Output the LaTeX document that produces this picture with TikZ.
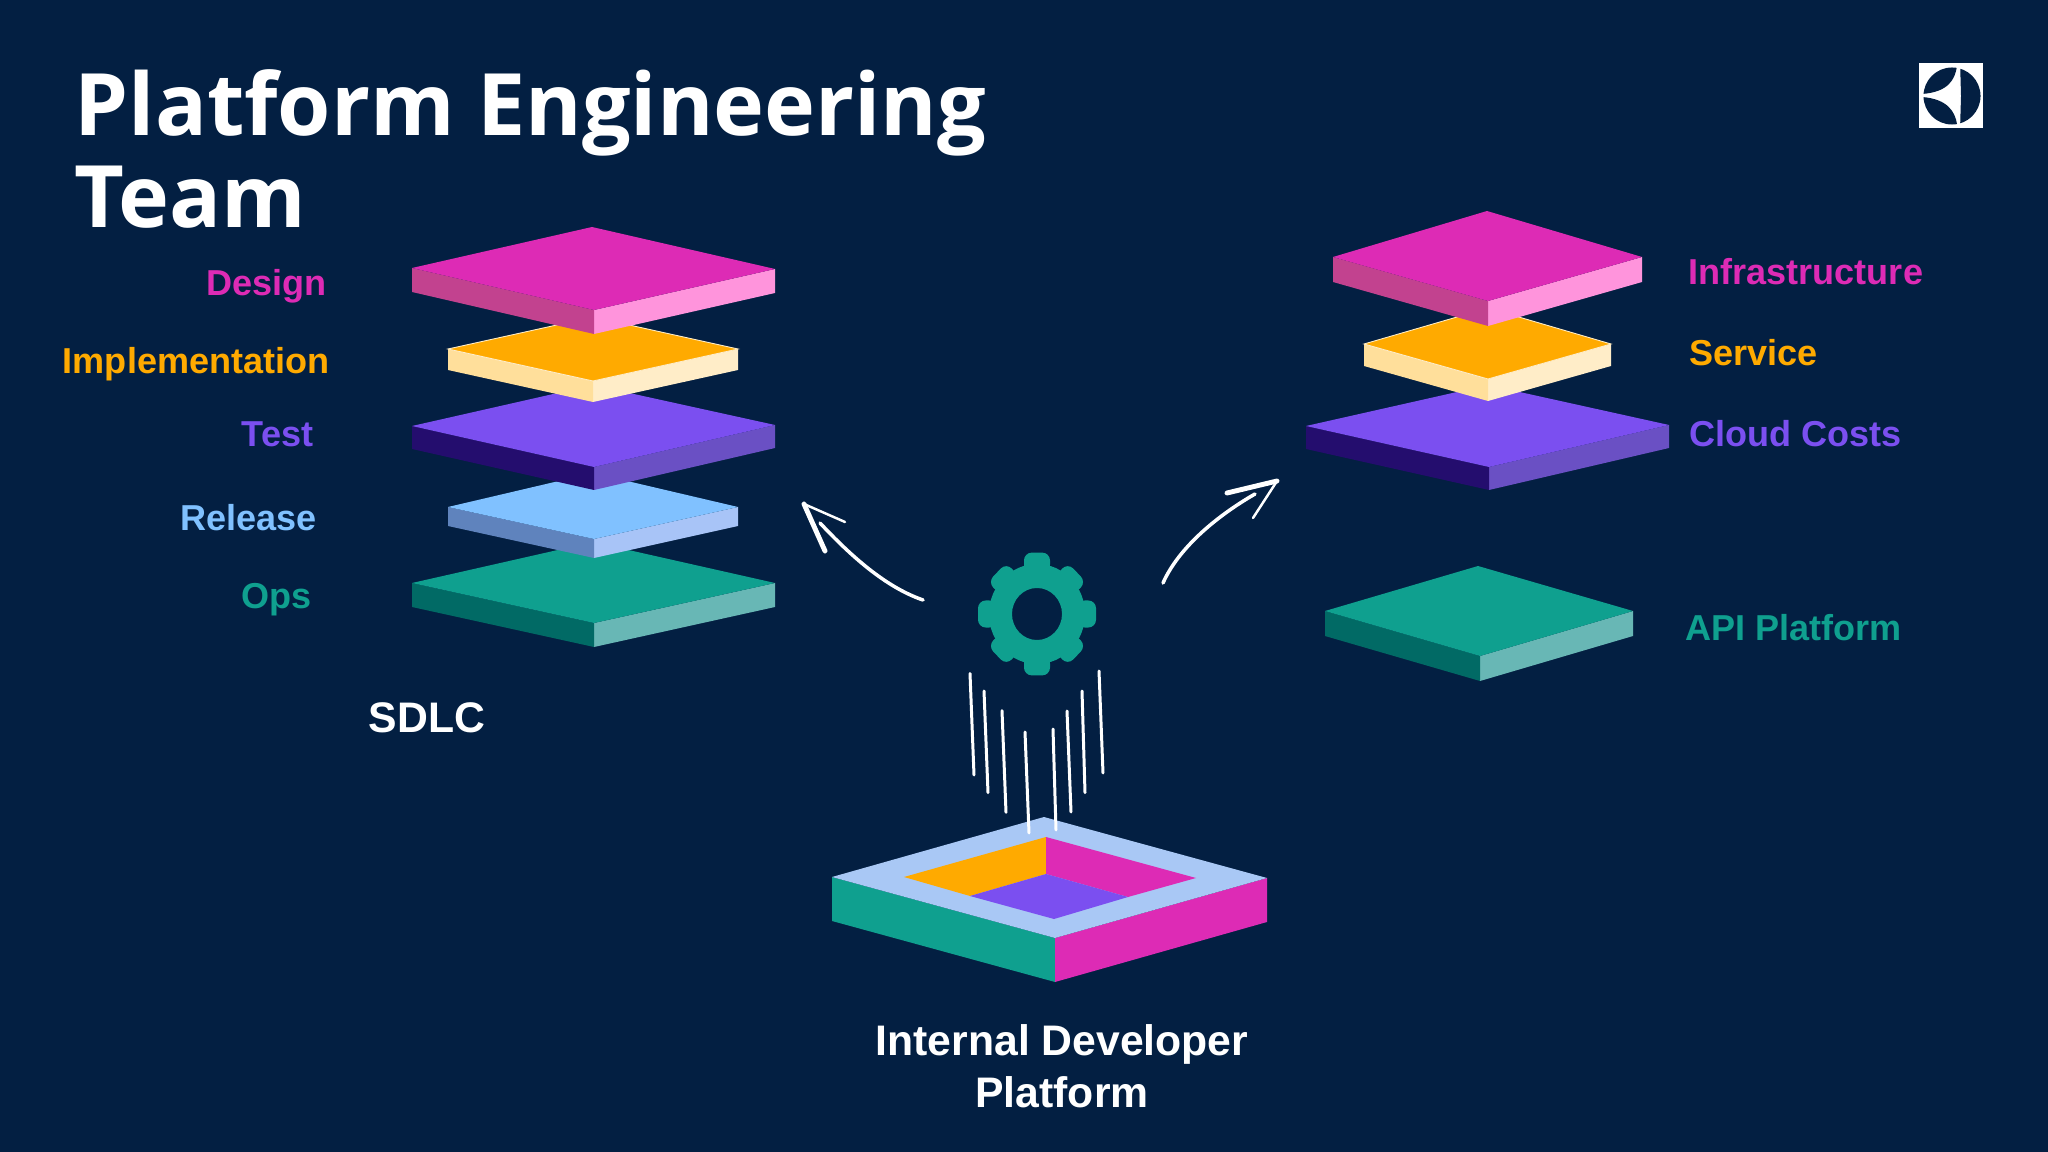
\documentclass[tikz,border=0pt]{standalone}
\usepackage{fontspec}
\setmainfont{Liberation Sans}
\newfontfamily\titlefont{Open Sans}
\usetikzlibrary{calc}
\definecolor{bgnavy}{HTML}{031F42}
\definecolor{magtop}{HTML}{DD2BB5}
\definecolor{magleft}{HTML}{C2428F}
\definecolor{magright}{HTML}{FF94DC}
\definecolor{amber}{HTML}{FFAA00}
\definecolor{ambleft}{HTML}{FFDF9B}
\definecolor{ambright}{HTML}{FFEDC8}
\definecolor{violet}{HTML}{7B4FF0}
\definecolor{vioeft}{HTML}{240D6E}
\definecolor{vioright}{HTML}{6A50C4}
\definecolor{sky}{HTML}{80C1FF}
\definecolor{skyleft}{HTML}{5F83BD}
\definecolor{skyright}{HTML}{A8C4F7}
\definecolor{teal}{HTML}{0FA08F}
\definecolor{tealleft}{HTML}{016A65}
\definecolor{tealright}{HTML}{68B7B5}
\definecolor{rimblue}{HTML}{A9C8F5}
\tikzset{
lbl/.style={inner sep=0pt,font=\bfseries\fontsize{10.25}{12}\selectfont},
lblL/.style={lbl,anchor=base east},
lblR/.style={lbl,anchor=base west},
headline/.style={inner sep=0pt,anchor=base west,white,font=\titlefont\bfseries\fontsize{24.5}{26}\selectfont},
caption/.style={inner sep=0pt,white,font=\bfseries\fontsize{12.15}{14.6}\selectfont},
stroke/.style={white,line width=1pt,line cap=round},
strokethin/.style={white,line width=.7pt,line cap=round},
strokefat/.style={white,line width=1.4pt,line cap=round},
drop/.style={white,line width=.85pt,line cap=round}
}
% top, left, right, front, thickness, then the three face colours
\newcommand{\slab}[8]{
\fill[#8] #3 -- #4 -- ($#4+(0,#5)$) -- ($#3+(0,#5)$) -- cycle;
\fill[#7] #2 -- #4 -- ($#4+(0,#5)$) -- ($#2+(0,#5)$) -- cycle;
\fill[#6] #1 -- #2 -- #4 -- #3 -- cycle;
}
\begin{document}
\begin{tikzpicture}[x=0.01cm,y=-0.01cm]
\fill[bgnavy] (0,0) rectangle (2048,1152);

\node[headline] (title) at (74,136) {Platform Engineering};
\node[headline] (team) at (74,228) {Team};

\fill[white] (1919,63) rectangle (1983,128);
\begin{scope}
\clip (1952,96) circle (0.285cm);
\fill[bgnavy] (1960,60) -- (1990,60) -- (1990,130) -- (1960,130) -- (1961,96) -- cycle;
\fill[bgnavy] (1957,60) -- (1957,66) .. controls (1955,80) and (1948,92) .. (1922,94) -- (1915,94) -- (1915,60) -- cycle;
\fill[bgnavy] (1957,130) -- (1957,124) .. controls (1955,112) and (1948,99) .. (1922,97) -- (1915,97) -- (1915,130) -- cycle;
\end{scope}

\slab{(593,542)}{(412,583)}{(775,583)}{(594,623)}{24}{teal}{tealleft}{tealright}
\slab{(593,473)}{(448,507)}{(738,507)}{(594,539)}{19}{sky}{skyleft}{skyright}
\slab{(593,385)}{(412,426)}{(775,425)}{(594,467)}{23}{violet}{vioeft}{vioright}
\slab{(593,317)}{(448,349)}{(738,349)}{(593,381)}{21}{amber,draw=ambright,line width=.25pt}{ambleft}{ambright}
\slab{(592,227)}{(412,268)}{(775,269)}{(594,310)}{24}{magtop}{magleft}{magright}

\slab{(1478,566)}{(1325,611)}{(1633,611)}{(1480,656)}{25}{teal}{tealleft}{tealright}
\slab{(1488,385)}{(1306,426)}{(1669,425)}{(1489,467)}{23}{violet}{vioeft}{vioright}
\slab{(1488,308)}{(1364,344)}{(1611,344)}{(1488,379)}{22}{amber,draw=ambright,line width=.25pt}{ambleft}{ambright}
\slab{(1487,211)}{(1333,257)}{(1642,257)}{(1488,301)}{25}{magtop}{magleft}{magright}

\node[lblL,magtop] (design) at (327,296) {Design};
\node[lblL,amber] (implementation) at (330,374) {Implementation};
\node[lblL,violet] (test) at (314,447) {Test};
\node[lblL,sky] (release) at (317,531) {Release};
\node[lblL,teal] (ops) at (312,608) {Ops};
\node[caption,anchor=base west] (sdlc) at (368,732) {SDLC};

\node[lblR,magtop] (infrastructure) at (1688,285) {Infrastructure};
\node[lblR,amber] (service) at (1689,366) {Service};
\node[lblR,violet] (cloud) at (1689,447) {Cloud Costs};
\node[lblR,teal] (api) at (1685,640) {API Platform};

\coordinate (gear) at (1037,614);
\begin{scope}[shift={(gear)},yscale=1.04]
\fill[teal,even odd rule] (0,0) circle (0.48cm) (0,0) circle (0.25cm);
\foreach \a in {0,90,180,270}
\fill[teal,rounded corners=2.2pt,rotate=\a] (-13,-40) rectangle (13,-59);
\foreach \a in {45,135,225,315}
\fill[teal,rounded corners=2.2pt,rotate=\a] (-13,-40) rectangle (13,-56.5);
\end{scope}

\foreach \xa/\ya/\xb/\yb in {970/673.5/974/775,984/691/988/792.7,1002/710.7/1006/812.3,1082/691/1085/792.7,1067/711/1071/812,1099/671/1103/773}
\draw[drop] (\xa,\ya) -- (\xb,\yb);

\coordinate (leftstart) at (923,600);
\coordinate (leftend) at (820,523);
\coordinate (lefttip) at (804,504);
\coordinate (leftbarbA) at (845,522);
\coordinate (leftbarbB) at (825,551);
\draw[stroke] (leftstart) .. controls (885,587) and (850,555) .. (leftend);
\draw[strokethin] (lefttip) -- (leftbarbA);
\draw[strokefat] (lefttip) -- (leftbarbB);

\coordinate (rightstart) at (1163,583);
\coordinate (rightend) at (1255,494);
\coordinate (righttip) at (1277,481);
\coordinate (rightbarbA) at (1227,493);
\coordinate (rightbarbB) at (1253,518);
\draw[stroke] (rightstart) .. controls (1178,549) and (1215,517) .. (rightend);
\draw[strokefat] (righttip) -- (rightbarbA);
\draw[strokethin] (righttip) -- (rightbarbB);

\fill[teal] (832,877) -- (1055,938) -- (1055,982) -- (832,921) -- cycle;
\fill[magtop] (1267,878) -- (1055,938) -- (1055,982) -- (1267,922) -- cycle;
\fill[rimblue] (1044,817) -- (832,877) -- (1055,938) -- (1267,878) -- cycle;
\fill[amber] (1046,837) -- (904,877) -- (970,896) -- (1046,874) -- cycle;
\fill[magtop] (1046,837) -- (1196,878) -- (1128,897) -- (1046,874) -- cycle;
\fill[violet] (1046,874) -- (1128,897) -- (1054,919) -- (970,896) -- cycle;

\foreach \xa/\ya/\xb/\yb in {1025/732/1029/833,1053/729/1056/830}
\draw[drop] (\xa,\ya) -- (\xb,\yb);

\node[caption,align=center,anchor=base] (idp) at (1062,1107) {Internal Developer\\Platform};
\end{tikzpicture}
\end{document}
